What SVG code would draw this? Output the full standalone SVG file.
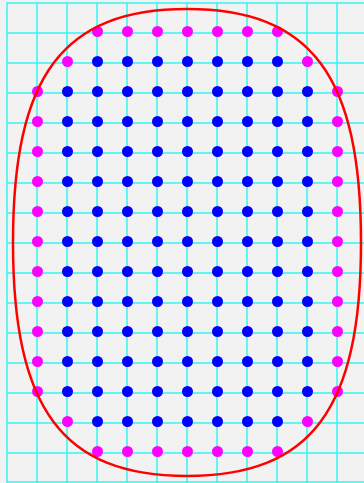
<svg xmlns="http://www.w3.org/2000/svg" width="364" height="483" viewBox="0 0 364 483">
<style>
.g line{stroke:#33f5f5;stroke-width:1.5}
.b{fill:#0000ff}
.m{fill:#ff00ff}
.c{fill:none;stroke:#ff0000;stroke-width:2.5}
</style>
<defs>
<circle id="db" r="5.5" class="b"/>
<circle id="dm" r="5.5" class="m"/>
<g id="full"><use href="#dm" x="37.5"/><use href="#db" x="67.5"/><use href="#db" x="97.5"/><use href="#db" x="127.5"/><use href="#db" x="157.5"/><use href="#db" x="187.5"/><use href="#db" x="217.5"/><use href="#db" x="247.5"/><use href="#db" x="277.5"/><use href="#db" x="307.5"/><use href="#dm" x="337.5"/></g>
</defs>
<rect width="364" height="483" fill="#f2f2f2"/>
<g class="g" id="grid">
<line x1="7" y1="2.5" x2="7" y2="483"/><line x1="37" y1="2.5" x2="37" y2="483"/><line x1="67" y1="2.5" x2="67" y2="483"/><line x1="97" y1="2.5" x2="97" y2="483"/><line x1="127" y1="2.5" x2="127" y2="483"/><line x1="157" y1="2.5" x2="157" y2="483"/><line x1="187" y1="2.5" x2="187" y2="483"/><line x1="217" y1="2.5" x2="217" y2="483"/><line x1="247" y1="2.5" x2="247" y2="483"/><line x1="277" y1="2.5" x2="277" y2="483"/><line x1="307" y1="2.5" x2="307" y2="483"/><line x1="337" y1="2.5" x2="337" y2="483"/>
<line x1="7" y1="3" x2="364" y2="3"/><line x1="7" y1="33" x2="364" y2="33"/><line x1="7" y1="63" x2="364" y2="63"/><line x1="7" y1="93" x2="364" y2="93"/><line x1="7" y1="123" x2="364" y2="123"/><line x1="7" y1="153" x2="364" y2="153"/><line x1="7" y1="183" x2="364" y2="183"/><line x1="7" y1="213" x2="364" y2="213"/><line x1="7" y1="243" x2="364" y2="243"/><line x1="7" y1="273" x2="364" y2="273"/><line x1="7" y1="303" x2="364" y2="303"/><line x1="7" y1="333" x2="364" y2="333"/><line x1="7" y1="363" x2="364" y2="363"/><line x1="7" y1="393" x2="364" y2="393"/><line x1="7" y1="423" x2="364" y2="423"/><line x1="7" y1="453" x2="364" y2="453"/><line x1="7" y1="482" x2="364" y2="482"/>
</g>
<g id="dots">
<g id="row0" transform="translate(0,31.5)"><use href="#dm" x="97.5"/><use href="#dm" x="127.5"/><use href="#dm" x="157.5"/><use href="#dm" x="187.5"/><use href="#dm" x="217.5"/><use href="#dm" x="247.5"/><use href="#dm" x="277.5"/></g>
<g id="row1" transform="translate(0,61.5)"><use href="#dm" x="67.5"/><use href="#db" x="97.5"/><use href="#db" x="127.5"/><use href="#db" x="157.5"/><use href="#db" x="187.5"/><use href="#db" x="217.5"/><use href="#db" x="247.5"/><use href="#db" x="277.5"/><use href="#dm" x="307.5"/></g>
<use href="#full" y="91.5"/><use href="#full" y="121.5"/><use href="#full" y="151.5"/><use href="#full" y="181.5"/><use href="#full" y="211.5"/><use href="#full" y="241.5"/><use href="#full" y="271.5"/><use href="#full" y="301.5"/><use href="#full" y="331.5"/><use href="#full" y="361.5"/><use href="#full" y="391.5"/>
<use href="#row1" y="360"/>
<use href="#row0" y="420"/>
</g>
<g id="curve">
<path class="c" d="M361,242.5 C361,409.2 311.2,476 187,476 C62.8,476 13,409.2 13,242.5 C13,75.8 62.8,9 187,9 C311.2,9 361,75.8 361,242.5 Z"/>
</g>
</svg>
